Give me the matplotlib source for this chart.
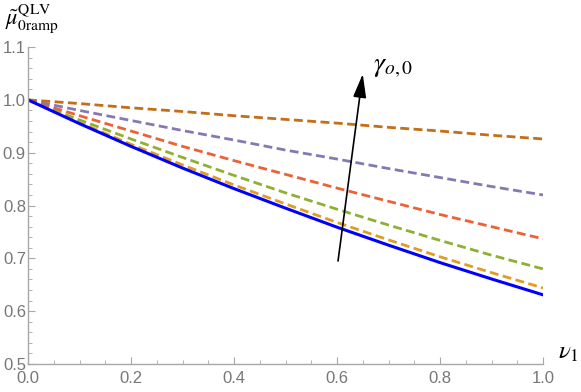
import matplotlib
matplotlib.use("Agg")
import matplotlib.pyplot as plt
import numpy as np

plt.rcParams["mathtext.fontset"] = "stix"

# nu_1 grid
nu = [0.0, 0.1, 0.2, 0.3, 0.4, 0.5, 0.6, 0.7, 0.8, 0.9, 1.0]

# solid reference curve
mu_ref = [1.000, 0.955, 0.912, 0.871, 0.832, 0.795, 0.759, 0.725, 0.692, 0.661, 0.631]

# dashed curves, increasing gamma_{o,0}
mu_g1 = [1.000, 0.957, 0.916, 0.877, 0.839, 0.803, 0.768, 0.735, 0.703, 0.673, 0.644]
mu_g2 = [1.000, 0.962, 0.926, 0.891, 0.857, 0.824, 0.793, 0.763, 0.734, 0.706, 0.680]
mu_g3 = [1.000, 0.970, 0.941, 0.912, 0.885, 0.859, 0.833, 0.808, 0.783, 0.760, 0.737]
mu_g4 = [1.000, 0.980, 0.961, 0.942, 0.924, 0.905, 0.888, 0.870, 0.853, 0.836, 0.820]
mu_g5 = [1.000, 0.993, 0.985, 0.978, 0.970, 0.963, 0.956, 0.948, 0.941, 0.933, 0.926]

dashed = [mu_g1, mu_g2, mu_g3, mu_g4, mu_g5]
colors = ["#E19C24", "#8FB032", "#EB6235", "#8778B3", "#C56E1A"]

fig = plt.figure(figsize=(5.81, 3.92), dpi=100)
ax = fig.add_axes([0.0482, 0.0714, 0.8864, 0.8086])

for vals, c in zip(dashed, colors):
    ax.plot(nu, vals, color=c, lw=2.0, dashes=(3.2, 1.6))
ax.plot(nu, mu_ref, color="#0000FF", lw=2.2)

# arrow showing increasing gamma
ax.annotate("", xy=(0.650, 1.049), xytext=(0.602, 0.695),
            arrowprops=dict(arrowstyle="-|>,head_length=0.9,head_width=0.25",
                            color="black", lw=1.2,
                            mutation_scale=16, shrinkA=0, shrinkB=0))
ax.text(0.670, 1.064, r"$\gamma_{o,0}$", fontsize=20, va="center", ha="left")

ax.set_xlim(0, 1)
ax.set_ylim(0.5, 1.1)
ax.set_xticks(np.arange(0, 1.01, 0.2))
ax.set_xticks(np.arange(0, 1.001, 0.05), minor=True)
ax.set_yticks(np.arange(0.5, 1.101, 0.1))
ax.set_yticks(np.arange(0.5, 1.101, 0.02), minor=True)
ax.xaxis.set_major_formatter(matplotlib.ticker.FormatStrFormatter("%.1f"))
ax.yaxis.set_major_formatter(matplotlib.ticker.FormatStrFormatter("%.1f"))

for s in ["top", "right"]:
    ax.spines[s].set_visible(False)
for s in ["left", "bottom"]:
    ax.spines[s].set_color("#A8A8A8")
    ax.spines[s].set_linewidth(1.0)

ax.tick_params(which="both", direction="in", color="#A8A8A8", labelcolor="#777777",
               labelsize=12)
ax.tick_params(axis="x", pad=5)
ax.tick_params(axis="y", pad=1.5)
ax.tick_params(which="major", length=5)
ax.tick_params(which="minor", length=3)
for lab in ax.get_xticklabels() + ax.get_yticklabels():
    lab.set_family("Liberation Sans")

ax.text(1.03, 0.5, r"$\nu_1$", fontsize=18, transform=ax.transData,
        ha="left", va="bottom", clip_on=False)
fig.text(0.008, 0.995, r"$\tilde{\mu}_{0\mathrm{ramp}}^{\mathrm{QLV}}$", fontsize=16,
         ha="left", va="top")

fig.savefig("out.png", dpi=100)
